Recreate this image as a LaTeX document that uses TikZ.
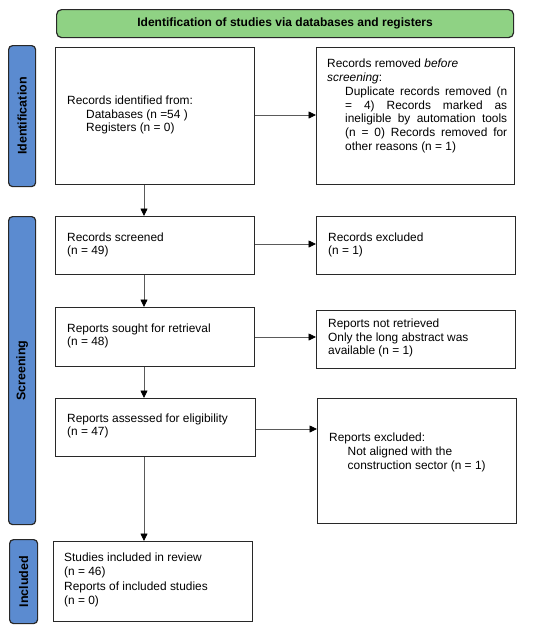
\documentclass[tikz,border=0pt]{standalone}
\usepackage{fontspec}
\setmainfont{Liberation Sans}
\usetikzlibrary{arrows.meta}
\definecolor{hdrgreen}{RGB}{143,210,132}
\definecolor{barblue}{RGB}{91,139,208}
\definecolor{edgecol}{RGB}{40,40,40}
\definecolor{arrcol}{RGB}{90,90,90}
\hbadness=10000
\begin{document}
\begin{tikzpicture}[x=1pt,y=-1pt,
  box/.style={draw=edgecol,line width=1.2pt,fill=white,anchor=north west,inner sep=0pt},
  hdr/.style={draw=edgecol,line width=1.2pt,fill=hdrgreen,rounded corners=5pt,anchor=north west,inner sep=0pt,
     font=\bfseries\fontsize{12}{14}\selectfont},
  bar/.style={draw=edgecol,line width=1.2pt,fill=barblue,rounded corners=4pt,anchor=north west,inner sep=0pt},
  barlabel/.style={rotate=90,font=\bfseries\fontsize{12.5}{14}\selectfont,inner sep=0pt},
  txt/.style={anchor=west,align=left,inner sep=0pt,font=\fontsize{11.9}{13.8}\selectfont},
  flow/.style={draw=arrcol,line width=0.8pt,-{Triangle[length=7.5pt,width=7pt,color=black]}}
]
\useasboundingbox (0,0) rectangle (550,630);
\fill[white] (0,0) rectangle (550,630);

% header and side bars
\node[hdr,minimum width=457pt,minimum height=28pt] (hdr) at (56,9) {Identification of studies via databases and registers};
\node[bar,minimum width=27pt,minimum height=141pt] (bid) at (8,45) {};
\node[barlabel] (lid) at (bid.center) {Identification};
\node[bar,minimum width=27pt,minimum height=308pt] (bscr) at (8,216) {};
\node[barlabel] (lscr) at (bscr.center) {Screening};
\node[bar,minimum width=28pt,minimum height=84pt] (binc) at (9,539) {};
\node[barlabel] (linc) at (binc.center) {Included};

% boxes
\node[box,minimum width=199pt,minimum height=137pt] (b1) at (55,47) {};
\node[box,minimum width=198pt,minimum height=137pt] (r1) at (316,47) {};
\node[box,minimum width=199pt,minimum height=58pt] (b2) at (55,216) {};
\node[box,minimum width=199pt,minimum height=58pt] (r2) at (316,216) {};
\node[box,minimum width=199pt,minimum height=59pt] (b3) at (55,307) {};
\node[box,minimum width=199pt,minimum height=58pt] (r3) at (316,310) {};
\node[box,minimum width=200pt,minimum height=58pt] (b4) at (55,398) {};
\node[box,minimum width=199pt,minimum height=125pt] (r4) at (317,398) {};
\node[box,minimum width=199pt,minimum height=80pt] (b5) at (53,541) {};

% texts
\node[txt] (t1) at (67,115) {Records identified from:\\\hspace*{19pt}Databases (n =54 )\\\hspace*{19pt}Registers (n = 0)};
\node[txt,align=justify,text width=180pt] (tr1) at (327,106) {Records removed \textit{before}\hfil\break\textit{screening}:\par
  \leftskip=18pt
  Duplicate records removed (n\linebreak
  = 4) Records marked as\linebreak
  ineligible by automation tools\linebreak
  (n = 0) Records removed for\linebreak
  other reasons (n = 1)\par};
\node[txt] (t2) at (67,245) {Records screened\\(n = 49)};
\node[txt] (tr2) at (328,245) {Records excluded\\(n = 1)};
\node[txt] (t3) at (67,336) {Reports sought for retrieval\\(n = 48)};
\node[txt] (tr3) at (328,338) {Reports not retrieved\\Only the long abstract was\\available (n = 1)};
\node[txt] (t4) at (67,426) {Reports assessed for eligibility\\(n = 47)};
\node[txt] (tr4) at (329,452.5) {Reports excluded:\\\hspace*{18.5pt}Not aligned with the\\\hspace*{18.5pt}construction sector (n = 1)};
\node[txt,font=\fontsize{11.9}{14.6}\selectfont] (t5) at (64,580) {Studies included in review\\(n = 46)\\Reports of included studies\\(n = 0)};

% connectors
\coordinate (vx) at (144,0);
\draw[flow] (b1.south -| vx) -- (b2.north -| vx);
\draw[flow] (b2.south -| vx) -- (b3.north -| vx);
\draw[flow] (b3.south -| vx) -- (b4.north -| vx);
\draw[flow] (b4.south -| vx) -- (b5.north -| vx);

\coordinate (h1) at (0,115);
\coordinate (h2) at (0,244);
\coordinate (h3) at (0,337);
\coordinate (h4) at (0,429);
\draw[flow] (b1.east |- h1) -- (r1.west |- h1);
\draw[flow] (b2.east |- h2) -- (r2.west |- h2);
\draw[flow] (b3.east |- h3) -- (r3.west |- h3);
\draw[flow] (b4.east |- h4) -- (r4.west |- h4);
\end{tikzpicture}
\end{document}
